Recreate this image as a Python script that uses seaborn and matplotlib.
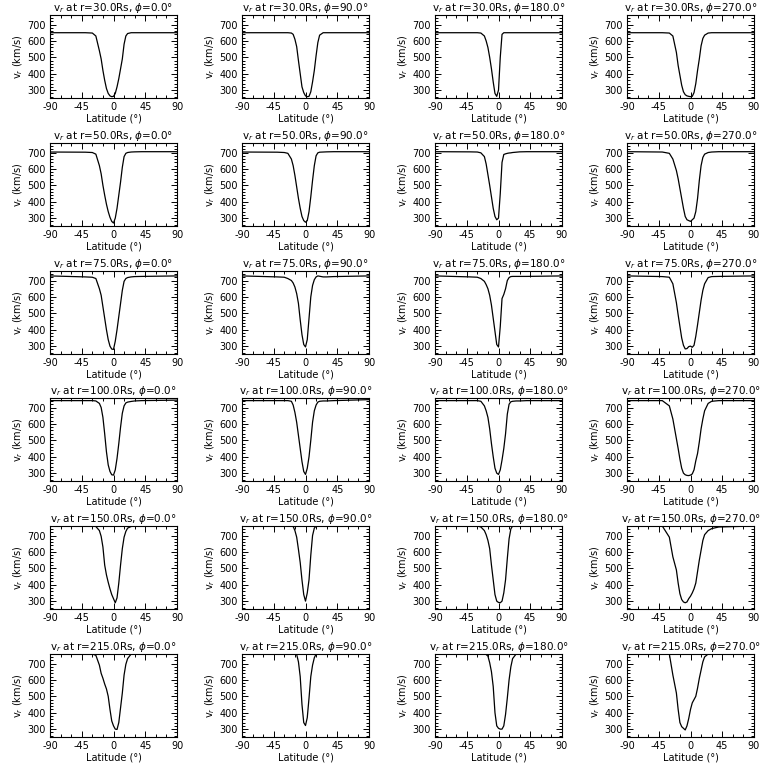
import matplotlib
matplotlib.use("Agg")
import matplotlib.pyplot as plt
import seaborn as sns
import pandas as pd
from matplotlib.ticker import AutoMinorLocator

# ---------------- data ----------------
RADII = ["30.0", "50.0", "75.0", "100.0", "150.0", "215.0"]
PHIS = ["0.0", "90.0", "180.0", "270.0"]

LAT = [-90, -40, -30, -25, -20, -17.5, -15, -12.5, -10, -7.5, -5, -2.5, 0,
       2.5, 5, 7.5, 10, 12.5, 15, 17.5, 20, 25, 30, 40, 90]

V_R30 = [
    [650, 650, 648, 630, 540, 490, 420, 360, 310, 280, 265, 260, 262, 280, 320, 370, 430, 490, 580, 630, 645, 650, 650, 650, 650],
    [650, 650, 650, 650, 648, 640, 610, 565, 480, 400, 320, 285, 265, 260, 262, 290, 350, 420, 510, 590, 635, 650, 650, 650, 650],
    [650, 650, 650, 648, 630, 600, 560, 500, 430, 350, 280, 262, 300, 500, 640, 650, 650, 650, 650, 650, 650, 650, 650, 650, 650],
    [650, 650, 648, 630, 530, 450, 390, 330, 290, 272, 265, 262, 260, 262, 285, 340, 420, 490, 570, 615, 635, 648, 650, 650, 650],
]
V_R50 = [
    [703, 702, 700, 690, 620, 570, 500, 440, 385, 340, 305, 280, 270, 300, 360, 440, 520, 610, 675, 695, 700, 703, 704, 705, 705],
    [703, 702, 700, 695, 660, 620, 560, 490, 420, 360, 310, 285, 275, 285, 340, 430, 530, 620, 680, 698, 702, 703, 704, 705, 705],
    [705, 704, 703, 698, 675, 630, 565, 500, 430, 360, 310, 290, 300, 450, 640, 688, 692, 695, 697, 698, 700, 702, 704, 705, 705],
    [705, 703, 695, 660, 590, 540, 480, 420, 360, 310, 290, 285, 280, 290, 300, 340, 420, 530, 620, 670, 690, 700, 703, 705, 705],
]
V_R75 = [
    [728, 722, 720, 712, 650, 610, 540, 470, 400, 340, 300, 282, 280, 330, 400, 480, 560, 640, 695, 712, 718, 722, 724, 725, 728],
    [728, 722, 720, 712, 700, 685, 660, 620, 560, 460, 370, 310, 295, 340, 470, 600, 670, 705, 722, 728, 726, 722, 722, 724, 728],
    [728, 722, 720, 712, 695, 675, 650, 610, 550, 470, 390, 310, 295, 420, 590, 615, 650, 700, 718, 724, 725, 725, 725, 725, 728],
    [728, 724, 720, 680, 565, 490, 420, 350, 305, 283, 285, 297, 300, 293, 305, 360, 430, 505, 580, 640, 680, 718, 724, 725, 728],
]
V_R100 = [
    [742, 742, 742, 740, 725, 700, 640, 540, 430, 350, 310, 290, 288, 320, 390, 480, 580, 665, 710, 728, 733, 737, 740, 742, 745],
    [742, 742, 742, 742, 738, 715, 670, 610, 530, 450, 370, 310, 292, 330, 400, 500, 610, 680, 715, 733, 738, 740, 740, 742, 748],
    [742, 742, 742, 738, 710, 680, 640, 570, 480, 400, 330, 300, 292, 320, 380, 450, 540, 660, 720, 735, 738, 740, 740, 742, 742],
    [742, 742, 710, 630, 510, 450, 385, 330, 300, 290, 286, 285, 288, 295, 320, 375, 420, 490, 570, 630, 680, 725, 738, 742, 742],
]
V_R150 = [
    [758, 758, 758, 755, 730, 695, 630, 520, 460, 415, 375, 340, 315, 290, 320, 410, 520, 620, 690, 725, 745, 755, 758, 758, 758],
    [758, 758, 758, 758, 758, 755, 730, 690, 615, 535, 430, 340, 300, 350, 430, 580, 700, 745, 758, 758, 758, 758, 758, 758, 758],
    [758, 758, 758, 752, 730, 705, 670, 620, 520, 430, 340, 300, 292, 290, 300, 350, 430, 560, 680, 740, 758, 758, 758, 758, 758],
    [758, 758, 690, 570, 490, 410, 345, 310, 295, 290, 295, 315, 330, 350, 375, 410, 480, 550, 610, 670, 705, 730, 742, 752, 758],
]
V_R215 = [
    [758, 758, 758, 750, 690, 640, 610, 575, 545, 500, 420, 350, 320, 300, 298, 340, 430, 520, 630, 695, 730, 758, 758, 758, 758],
    [758, 758, 758, 758, 758, 758, 758, 755, 710, 620, 450, 340, 322, 370, 490, 620, 690, 735, 758, 758, 758, 758, 758, 758, 758],
    [758, 758, 758, 758, 758, 755, 745, 705, 650, 560, 400, 320, 305, 300, 300, 320, 390, 490, 600, 680, 730, 758, 758, 758, 758],
    [758, 758, 758, 630, 520, 420, 340, 315, 305, 295, 320, 365, 420, 460, 480, 500, 550, 610, 660, 710, 740, 758, 758, 758, 758],
]
ALL_V = [V_R30, V_R50, V_R75, V_R100, V_R150, V_R215]

XTICKS = [-90, -45, 0, 45, 90]
XTICK_LABELS = ["-90", "-45", "0", "45", "90"]
YTICKS = [300, 400, 500, 600, 700]
YTICK_LABELS = ["300", "400", "500", "600", "700"]

# ---------------- style ----------------
sns.set_style("ticks")
plt.rcParams["font.family"] = ["DejaVu Sans"]
plt.rcParams["axes.unicode_minus"] = False
plt.rcParams["axes.linewidth"] = 0.8
plt.rcParams["text.color"] = "black"
plt.rcParams["axes.labelcolor"] = "black"
plt.rcParams["xtick.color"] = "black"
plt.rcParams["ytick.color"] = "black"
plt.rcParams["axes.edgecolor"] = "black"

W = H = 768
fig = plt.figure(figsize=(7.68, 7.68), dpi=100)

col_left = [50, 242, 435, 627]
row_top = [15, 143, 271, 398, 526, 654]
aw, ah = 127, 83

for i, r in enumerate(RADII):
    for j, phi in enumerate(PHIS):
        left = col_left[j] / W
        bottom = 1 - (row_top[i] + ah) / H
        ax = fig.add_axes([left, bottom, aw / W, ah / H])
        df = pd.DataFrame({"lat": LAT, "v": ALL_V[i][j]})
        sns.lineplot(data=df, x="lat", y="v", ax=ax, color="black",
                     linewidth=0.9, estimator=None, sort=False)
        ax.set_xlim(-90, 90)
        ax.set_ylim(252, 758)
        ax.set_xticks(XTICKS)
        ax.set_xticklabels(XTICK_LABELS)
        ax.set_yticks(YTICKS)
        ax.set_yticklabels(YTICK_LABELS)
        ax.xaxis.set_minor_locator(AutoMinorLocator(3))
        ax.yaxis.set_minor_locator(AutoMinorLocator(5))
        ax.tick_params(which="both", direction="in", top=True, right=True,
                       labelsize=7, width=0.7, color="black",
                       labelcolor="black", pad=3)
        ax.tick_params(which="major", length=4)
        ax.tick_params(which="minor", length=2)
        for s in ax.spines.values():
            s.set_color("black")
            s.set_linewidth(0.8)
        ax.set_title(r"v$_r$ at r=" + r + r"Rs, $\phi$=" + phi + "°",
                     fontsize=7.5, pad=2, color="black")
        ax.set_xlabel("Latitude (°)", fontsize=7, labelpad=1, color="black")
        ax.set_ylabel(r"v$_r$ (km/s)", fontsize=7, labelpad=2, color="black")

fig.savefig("out.png", dpi=100, facecolor="white")
